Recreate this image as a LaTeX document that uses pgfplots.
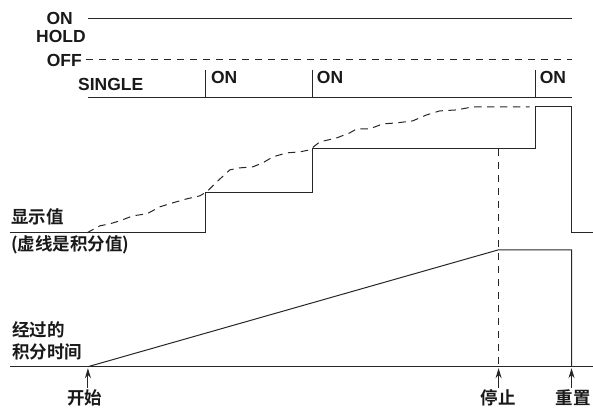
\documentclass[border=0pt]{standalone}
\usepackage{fontspec}
\setmainfont{Liberation Sans}
\newfontfamily\cjk{Noto Sans CJK SC}[BoldFont={Noto Sans CJK SC Bold}]
\usepackage{pgfplots}
\pgfplotsset{compat=1.18}
\usetikzlibrary{arrows.meta}
\begin{document}
\begin{tikzpicture}[
  lab/.style={font=\fontsize{17.5}{19}\selectfont\bfseries, inner sep=0pt, text=black!90},
  cj/.style={font=\fontsize{17.5}{19}\selectfont\cjk\bfseries, inner sep=0pt, text=black!90},
  ln/.style={line width=1pt, color=black!85, solid},
  dsh/.style={line width=1pt, color=black!85, dash pattern=on 7.5pt off 5.5pt},
  arr/.style={line width=1pt, color=black!85, -{Stealth[length=10pt,width=6pt]}},
]
\begin{axis}[
  scale only axis, width=593pt, height=410pt,
  xmin=0, xmax=593, ymin=0, ymax=410, y dir=reverse,
  hide axis, clip=false,
]
\path (axis cs:0,0) rectangle (axis cs:593,410);
% ON / HOLD / OFF
\addplot[ln] coordinates {(88,19) (572,19)};
\addplot[dsh] coordinates {(86,60) (572,60)};
% SINGLE
\addplot[ln] coordinates {(88,98) (572,98)};
\addplot[ln] coordinates {(206,70) (206,98)};
\addplot[ln] coordinates {(313,70) (313,98)};
\addplot[ln] coordinates {(536,70) (536,98)};
% display value
\addplot[ln] coordinates {(10,233) (206,233) (206,193) (313,193) (313,149) (536,149) (536,107) (572,107) (572,233) (593,233)};
\addplot[dsh] coordinates {(87,233) (100,226) (110,224) (120,221) (133,216) (147,214) (160,207) (173,203) (187,199) (200,196) (207,192) (217,182) (230,170) (240,168) (253,167) (263,163) (273,157) (287,153) (300,152) (310,150) (320,142) (337,138) (350,133) (357,129) (370,129) (383,124) (397,123) (413,121) (427,115) (440,111) (457,110) (473,107) (530,107)};
\addplot[dsh] coordinates {(499,149) (499,367)};
% elapsed integration time
\addplot[ln] coordinates {(10,367) (593,367)};
\addplot[ln] coordinates {(88,367) (499,250) (572,250) (572,367)};
% arrows
\addplot[arr] coordinates {(88,388) (88,368.5)};
\addplot[arr] coordinates {(499,388) (499,368.5)};
\addplot[arr] coordinates {(572,388) (572,368.5)};
% labels
\node[lab, anchor=east] at (axis cs:73,18) {ON};
\node[lab, anchor=east] at (axis cs:86,37) {HOLD};
\node[lab, anchor=east] at (axis cs:82,61) {OFF};
\node[lab, anchor=west] at (axis cs:78,85) {SINGLE};
\node[lab, anchor=west] at (axis cs:211,78) {ON};
\node[lab, anchor=west] at (axis cs:317,78) {ON};
\node[lab, anchor=west] at (axis cs:540,78) {ON};
\node[cj, anchor=west] at (axis cs:11,217) {显示值};
\node[cj, anchor=west] at (axis cs:11,245) {(虚线是积分值)};
\node[cj, anchor=west] at (axis cs:12,330) {经过的};
\node[cj, anchor=west] at (axis cs:12,352) {积分时间};
\node[cj] at (axis cs:85,398) {开始};
\node[cj] at (axis cs:498.5,398) {停止};
\node[cj] at (axis cs:573.5,398) {重置};
\end{axis}
\end{tikzpicture}
\end{document}
